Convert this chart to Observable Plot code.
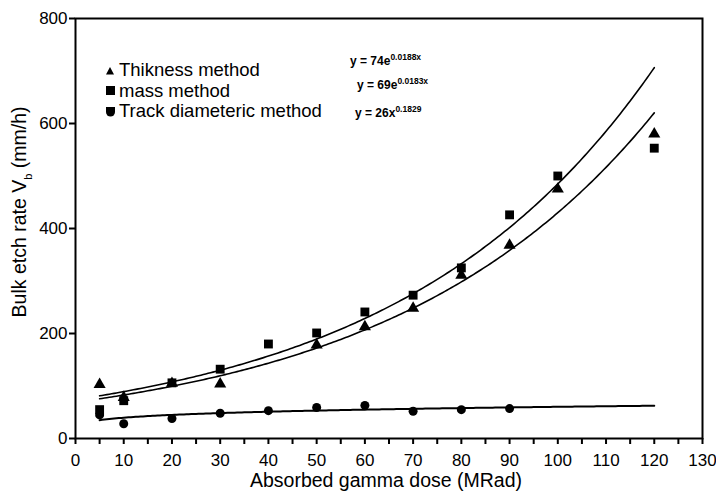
<!DOCTYPE html>
<html>
<head>
<meta charset="utf-8">
<script src="https://cdn.jsdelivr.net/npm/d3@7"></script>
<script src="https://cdn.jsdelivr.net/npm/@observablehq/plot@0.6"></script>
<style>
  html, body { margin: 0; padding: 0; background: #fff; }
  #wrap { position: relative; width: 716px; height: 493px; font-family: "Liberation Sans", Arial, sans-serif; }
  .legend { position: absolute; left: 105px; top: 60px; font-size: 18.5px; line-height: 20.5px; color: #000; }
  .legend div { display: flex; align-items: center; white-space: nowrap; }
  .legend svg { margin-right: 3px; }
  .eq { position: absolute; font-size: 12px; font-weight: bold; color: #000; white-space: nowrap; }
  .eq sup { font-size: 8.5px; }
</style>
</head>
<body>
<div id="wrap"></div>
<script>
// Absorbed gamma dose (MRad) and bulk etch rate Vb (mm/h) for three methods
const thicknessDose = [5, 10, 20, 30, 50, 60, 70, 80, 90, 100, 120];
const thicknessRate = [103, 78, 105, 104, 178, 213, 248, 311, 368, 475, 580];
const massDose = [5, 10, 20, 30, 40, 50, 60, 70, 80, 90, 100, 120];
const massRate = [55, 72, 106, 132, 180, 201, 241, 273, 325, 426, 500, 553];
const trackDose = [5, 10, 20, 30, 40, 50, 60, 70, 80, 90];
const trackRate = [45, 28, 38, 48, 53, 59, 63, 52, 55, 57];

// Fitted trend equations shown on the chart
const fitThickness = {a: 74, b: 0.0188};   // y = a·e^(b·x)
const fitMass = {a: 69, b: 0.0183};        // y = a·e^(b·x)
const fitTrack = {a: 26, b: 0.1829};       // y = a·x^b
const fitRange = [5, 120];

const xTicks = d3.range(0, 131, 5);
const xLabels = [0, 10, 20, 30, 40, 50, 60, 70, 80, 90, 100, 110, 120, 130];
const yTicks = [0, 200, 400, 600, 800];

const toRows = (xs, ys) => xs.map((x, i) => ({x, y: ys[i]}));
const sampleFit = (f) => d3.range(fitRange[0], fitRange[1] + 0.001, 0.5).map(x => ({x, y: f(x)}));

const curveThickness = sampleFit(x => fitThickness.a * Math.exp(fitThickness.b * x));
const curveMass = sampleFit(x => fitMass.a * Math.exp(fitMass.b * x));
const curveTrack = sampleFit(x => fitTrack.a * Math.pow(x, fitTrack.b));

const chart = Plot.plot({
  width: 716,
  height: 493,
  marginLeft: 75,
  marginRight: 14,
  marginTop: 18,
  marginBottom: 55,
  style: {fontFamily: "'Liberation Sans', Arial, sans-serif", fontSize: "17px", color: "#000", background: "#fff"},
  x: {domain: [0, 130]},
  y: {domain: [0, 800]},
  marks: [
    Plot.frame({stroke: "#000", strokeWidth: 2}),
    Plot.axisX({ticks: xTicks, tickSize: 6, tickPadding: 9, tickFormat: d => xLabels.includes(d) ? String(d) : "", label: null, strokeWidth: 2}),
    Plot.axisY({ticks: yTicks, tickSize: 6, tickPadding: 2, label: null, strokeWidth: 2}),
    Plot.line(curveThickness, {x: "x", y: "y", stroke: "#000", strokeWidth: 1.6}),
    Plot.line(curveMass, {x: "x", y: "y", stroke: "#000", strokeWidth: 1.6}),
    Plot.line(curveTrack, {x: "x", y: "y", stroke: "#000", strokeWidth: 2}),
    Plot.dot(toRows(trackDose, trackRate), {x: "x", y: "y", symbol: "circle", fill: "#000", r: 4.5}),
    Plot.dot(toRows(massDose, massRate), {x: "x", y: "y", symbol: "square", fill: "#000", r: 5}),
    Plot.dot(toRows(thicknessDose, thicknessRate), {x: "x", y: "y", symbol: "triangle", fill: "#000", r: 4.5})
  ]
});

const wrap = document.getElementById("wrap");
wrap.appendChild(chart);

// Axis titles
const svg = d3.select(chart);
svg.append("text")
  .attr("x", 386).attr("y", 487)
  .attr("text-anchor", "middle")
  .attr("font-size", 19.5)
  .attr("fill", "#000")
  .text("Absorbed gamma dose (MRad)");
const yTitle = svg.append("text")
  .attr("transform", "translate(26,212) rotate(-90)")
  .attr("text-anchor", "middle")
  .attr("font-size", 19.5)
  .attr("fill", "#000");
yTitle.append("tspan").text("Bulk etch rate V");
yTitle.append("tspan").attr("font-size", 11).attr("baseline-shift", "sub").text("b");
yTitle.append("tspan").text(" (mm/h)");

// Legend
const legendItems = [
  {label: "Thikness method", symbol: "tri"},
  {label: "mass method", symbol: "sq"},
  {label: "Track diameteric method", symbol: "circ"}
];
const legend = document.createElement("div");
legend.className = "legend";
for (const item of legendItems) {
  const row = document.createElement("div");
  let shape;
  if (item.symbol === "tri") shape = '<polygon points="5,2 9,9.5 1,9.5" fill="#000"/>';
  else if (item.symbol === "sq") shape = '<rect x="1" y="1" width="9" height="9" fill="#000"/>';
  else shape = '<path d="M1,1 H10 V6 A4.5,4.5 0 0 1 1,6 Z" fill="#000"/>';
  row.innerHTML = `<svg width="11" height="11">${shape}</svg><span>${item.label}</span>`;
  legend.appendChild(row);
}
wrap.appendChild(legend);

// Fit equations
const equations = [
  {html: `y = ${fitThickness.a}e<sup>${fitThickness.b}x</sup>`, left: 350, top: 52},
  {html: `y = ${fitMass.a}e<sup>${fitMass.b}x</sup>`, left: 357, top: 76},
  {html: `y = ${fitTrack.a}x<sup>${fitTrack.b}</sup>`, left: 355, top: 104}
];
for (const e of equations) {
  const d = document.createElement("div");
  d.className = "eq";
  d.style.left = e.left + "px";
  d.style.top = e.top + "px";
  d.innerHTML = e.html;
  wrap.appendChild(d);
}
</script>
</body>
</html>
